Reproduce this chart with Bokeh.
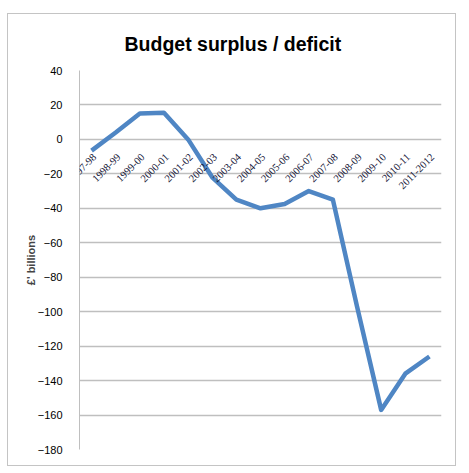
from bokeh.plotting import figure
from bokeh.models import Range1d, FixedTicker, ColumnDataSource, LabelSet
from bokeh.embed import file_html
from bokeh.resources import INLINE
from math import pi

years = ['1997-98', '1998-99', '1999-00', '2000-01', '2001-02', '2002-03',
         '2003-04', '2004-05', '2005-06', '2006-07', '2007-08', '2008-09',
         '2009-10', '2010-11', '2011-2012']
balance = [-6.5, 4, 15, 15.5, 0, -22, -35, -40, -37.5, -30, -35, -97,
           -157, -136, -126]
yticks = [40, 20, 0, -20, -40, -60, -80, -100, -120, -140, -160, -180]

p = figure(x_range=years, y_range=Range1d(-180, 40),
           width=449, height=453, output_backend="svg", toolbar_location=None,
           min_border_left=71, min_border_right=16, min_border_top=56,
           min_border_bottom=18, title='Budget surplus / deficit')
# chart area border, as in the spreadsheet chart
p.styles = {"border": "1px solid #c4c4c4", "margin-top": "13px", "margin-left": "7px"}
p.outline_line_color = None
p.background_fill_color = 'white'

# title is centred on the whole chart, not on the plot area
p.title.align = 'left'
p.title.offset = 45
p.title.vertical_align = 'middle'
p.title.text_font = 'Liberation Sans'
p.title.text_font_size = '19.5px'
p.title.text_font_style = 'bold'
p.title.text_color = 'black'
p.title.standoff = 30

p.line(years, balance, line_color='#4f86c4', line_width=4.5, line_join='round')

# y axis
p.yaxis.ticker = FixedTicker(ticks=yticks)
p.yaxis.axis_label = "£' billions"
p.yaxis.axis_label_text_font = 'Liberation Sans'
p.yaxis.axis_label_text_font_size = '11px'
p.yaxis.axis_label_text_font_style = 'bold'
p.yaxis.axis_label_standoff = -2
p.yaxis.major_label_text_font = 'Liberation Sans'
p.yaxis.major_label_text_font_size = '11px'
p.yaxis.major_label_text_color = 'black'
p.yaxis.major_label_standoff = 11
p.yaxis.axis_line_color = '#bfbfbf'
p.yaxis.major_tick_line_color = None
p.yaxis.minor_tick_line_color = None

# category labels hang from the zero line
p.xaxis.visible = False
src = ColumnDataSource(data=dict(x=years, y=[0] * len(years), text=years))
p.add_layout(LabelSet(x='x', y='y', text='text', source=src, angle=pi / 4,
                      x_offset=3, y_offset=-16, text_align='right',
                      text_baseline='middle', text_font='Liberation Sans',
                      text_font_size='10.5px', text_color='#111133'))

p.xgrid.grid_line_color = None
p.ygrid.grid_line_color = '#bfbfbf'
p.ygrid.grid_line_width = 1.4

open("out.html", "w").write(file_html(p, INLINE))
